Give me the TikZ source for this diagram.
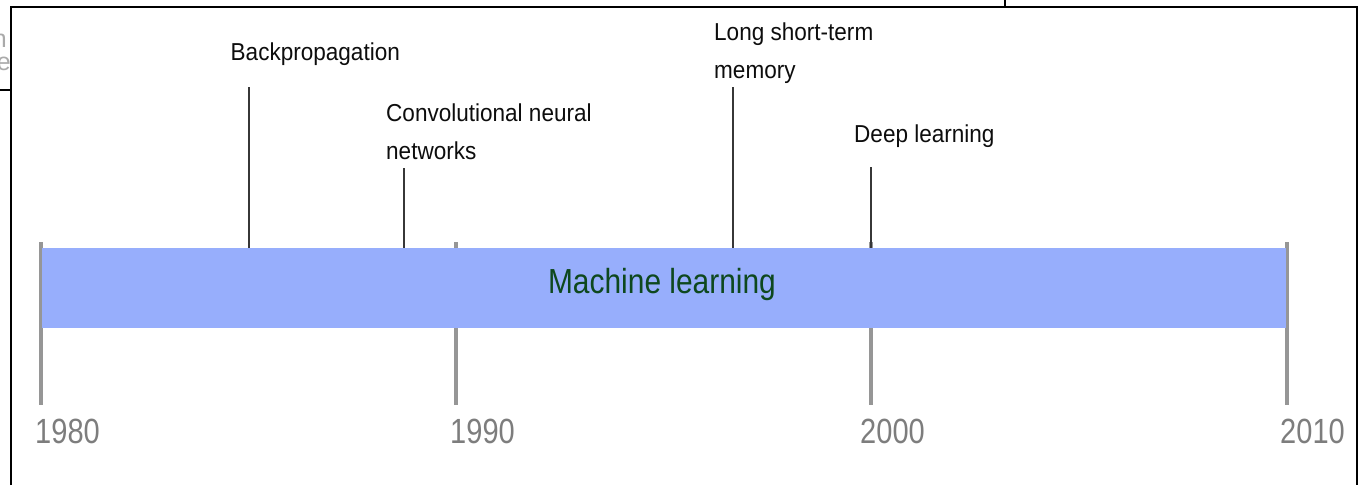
\documentclass[tikz,border=0pt]{standalone}
\usepackage{fontspec}
\setmainfont{Liberation Sans}
\newfontfamily\labfont[FakeStretch=0.92]{Liberation Sans}
\newfontfamily\mlfont[FakeStretch=0.86]{Liberation Sans}
\newfontfamily\yrfont[FakeStretch=0.83]{Liberation Sans}
\definecolor{barblue}{RGB}{151,174,252}
\definecolor{mlgreen}{RGB}{14,72,30}
\definecolor{tickgray}{RGB}{150,150,150}
\definecolor{yeargray}{RGB}{125,125,125}
\definecolor{evline}{RGB}{55,55,55}
\definecolor{ghost}{RGB}{170,170,170}
\tikzset{
  frame/.style={line width=2.6pt, black},
  tickline/.style={line width=3.5pt, tickgray},
  eventline/.style={line width=1.8pt, evline},
  evlabel/.style={anchor=base west, inner sep=0pt, font=\labfont\fontsize{24.5}{37.5}\selectfont, text=black!95, align=left},
  yearlabel/.style={anchor=base west, inner sep=0pt, font=\yrfont\fontsize{35}{40}\selectfont, text=yeargray},
  ghostlabel/.style={anchor=base east, inner sep=0pt, font=\fontsize{25}{30}\selectfont, text=ghost},
}
\begin{document}
\begin{tikzpicture}[x=1pt,y=-1pt]
\useasboundingbox (0,0) rectangle (1359,485);
% frame remnants
\draw[frame] (11,485) -- (11,7) -- (1357,7) -- (1357,485);
\draw[frame] (0,90) -- (11,90);
\draw[frame] (1005,0) -- (1005,7);
\node[ghostlabel] (g1) at (7,47) {n};
\node[ghostlabel] (g2) at (11,70) {e};
% ticks
\coordinate (t80a) at (41,242); \coordinate (t80b) at (41,405);
\coordinate (t90a) at (456,242); \coordinate (t90b) at (456,405);
\coordinate (t00a) at (871,242); \coordinate (t00b) at (871,405);
\coordinate (t10a) at (1287,242); \coordinate (t10b) at (1287,405);
\draw[tickline] (t80a) -- (t80b);
\draw[tickline] (t90a) -- (t90b);
\draw[tickline] (t00a) -- (t00b);
\draw[tickline] (t10a) -- (t10b);
% bar
\fill[barblue] (42,248) rectangle (1286,328);
\node[anchor=base, inner sep=0pt, font=\mlfont\fontsize{34.8}{40}\selectfont, text=mlgreen] (ml) at (662,293) {Machine learning};
% years
\node[yearlabel] (y80) at (35,443) {1980};
\node[yearlabel] (y90) at (450,443) {1990};
\node[yearlabel] (y00) at (860,443) {2000};
\node[yearlabel] (y10) at (1280,443) {2010};
% events
\node[evlabel] (bp) at (230.5,60) {Backpropagation};
\node[evlabel] (cnn) at (386,159) {Convolutional neural\\networks};
\node[evlabel] (lstm) at (714,78) {Long short-term\\memory};
\node[evlabel] (dl) at (854,142) {Deep learning};
\coordinate (bpa) at (249,87); \coordinate (bpb) at (249,248);
\coordinate (cnna) at (404,168); \coordinate (cnnb) at (404,248);
\coordinate (lstma) at (733,87); \coordinate (lstmb) at (733,248);
\coordinate (dla) at (871,167); \coordinate (dlb) at (871,248);
\draw[eventline] (bpa) -- (bpb);
\draw[eventline] (cnna) -- (cnnb);
\draw[eventline] (lstma) -- (lstmb);
\draw[eventline] (dla) -- (dlb);
\end{tikzpicture}
\end{document}
